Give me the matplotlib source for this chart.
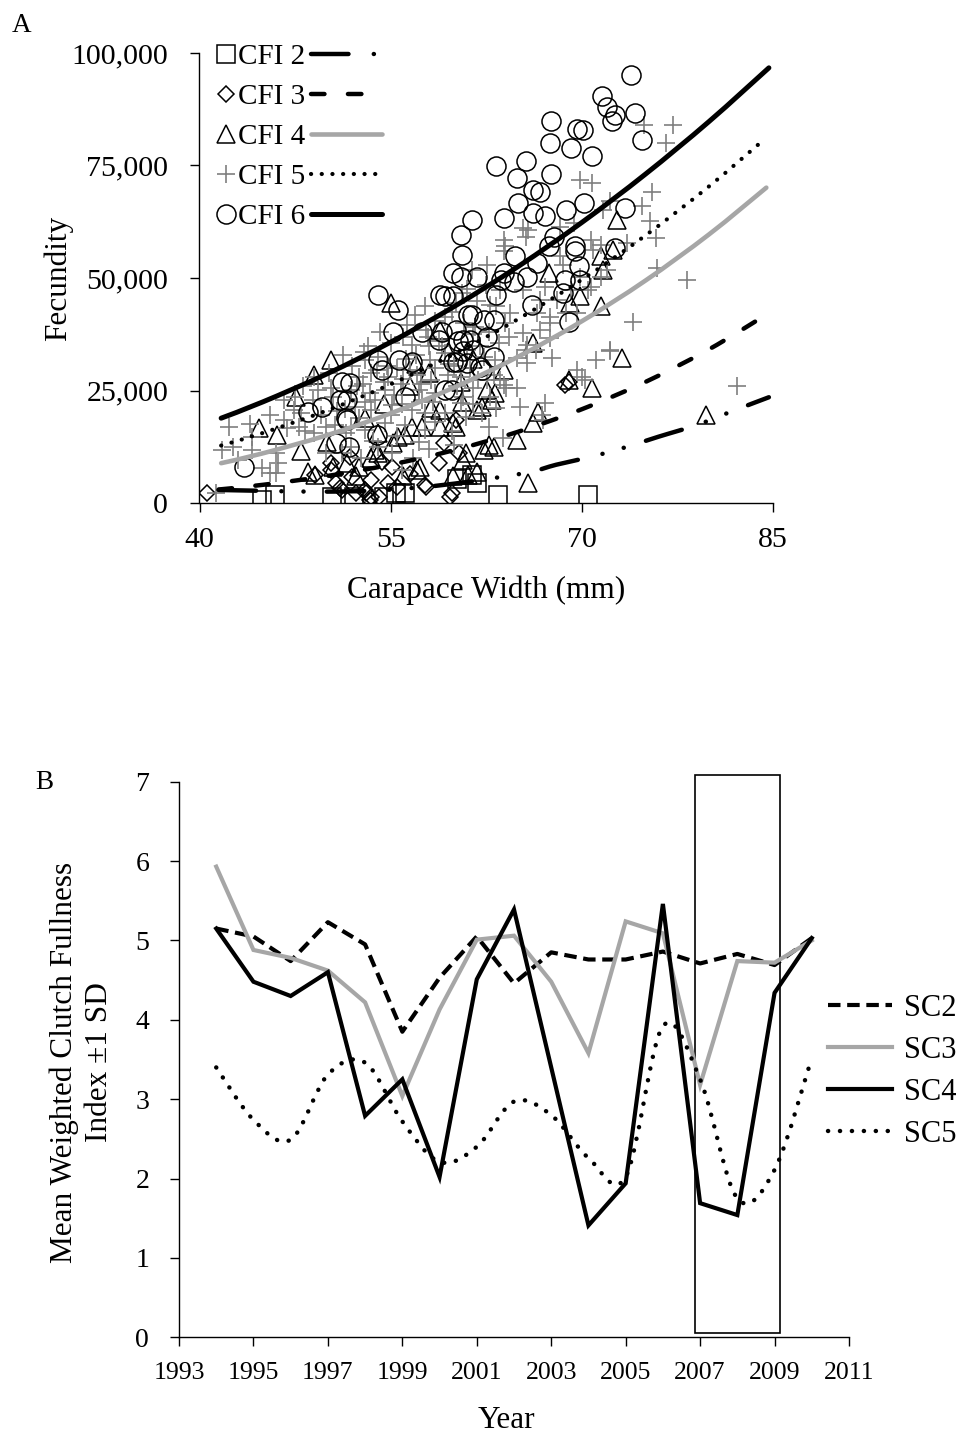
import numpy as np
import matplotlib
matplotlib.use("Agg")
import matplotlib.pyplot as plt
from matplotlib.path import Path
from matplotlib.patches import PathPatch, Rectangle
from matplotlib.lines import Line2D

plt.rcParams['font.family'] = ['Liberation Serif', 'DejaVu Serif']
plt.rcParams['lines.scale_dashes'] = False

# ---------------- Panel A data ----------------
cfi2_cw = [44.9, 45.9, 50.4, 52.1, 54.5, 55.4, 56.1, 60.2, 61.4, 61.8, 63.4, 70.5]
cfi2_fec = [700, 1800, 1400, 1400, 1400, 2200, 2200, 5300, 6300, 4400, 1800, 1800]

cfi3_cw = [40.6, 50.3, 49.1, 50.7, 51.2, 52.3, 53.4, 54.1, 55.1, 57.8, 58.8, 59.7, 60.4, 59.2,
           60.1, 57.7, 59.8, 53.0, 69.0, 68.7, 50.3, 51.0, 53.1, 53.5, 55.5, 51.8, 53.5, 54.3,
           52.0, 56.5, 54.8]
cfi3_fec = [2200, 8800, 6200, 4400, 2900, 2200, 700, 1400, 8100, 3600, 8800, 1400, 11100, 13300,
            18500, 4000, 2200, 2900, 27000, 26300, 7300, 3300, 2200, 1400, 3600, 10300, 5100, 9200,
            5800, 6500, 4500]

cfi4_cw = [50.3, 49.0, 47.6, 44.7, 46.1, 48.5, 49.1, 55.0, 50.5, 53.8, 55.2, 56.1, 57.5, 59.9,
           61.8, 60.6, 58.9, 58.9, 62.3, 60.7, 61.8, 57.3, 56.0, 52.3, 51.6, 53.5, 62.6, 62.2,
           63.0, 58.2, 56.7, 58.9, 60.1, 54.0, 55.6, 62.7, 60.9, 57.1, 54.0, 52.5, 59.9, 61.1,
           72.8, 71.5, 72.5, 71.7, 69.9, 69.1, 71.5, 67.4, 73.2, 70.8, 69.0, 66.2, 66.6, 66.2,
           64.9, 63.1, 65.8, 63.9, 63.2, 79.8, 56.5, 58.0, 59.5, 54.5, 57.0, 60.5, 61.5, 53.0,
           50.0, 48.0]
cfi4_fec = [31800, 28500, 23600, 16600, 15100, 7000, 6200, 44400, 8100, 11800, 13300, 15100,
            17000, 17700, 20700, 22500, 38500, 20700, 11800, 9600, 7000, 8100, 5900, 5900, 8800,
            9900, 25100, 21400, 22900, 21100, 17000, 17000, 17000, 15500, 14700, 12900, 11100,
            7300, 11100, 8100, 5900, 6200, 62900, 54800, 56300, 51800, 45900, 44400, 43700,
            51100, 32200, 25500, 27400, 35500, 20300, 17700, 14000, 12500, 4400, 29600, 24400,
            19600, 26000, 29000, 33500, 22000, 31000, 27000, 32000, 19000, 13500, 11500]

cfi5_cw = [77.2, 76.6, 74.9, 69.9, 70.8, 75.5, 74.7, 75.4, 75.8, 72.2, 75.9, 78.3, 74.0, 72.2,
           71.1, 70.0, 82.2, 67.7, 65.2, 63.3, 66.9, 64.9, 63.9, 73.6, 69.4, 68.3, 65.8, 65.6,
           63.9, 64.0, 70.9, 70.7, 72.0, 69.2, 70.7, 67.5, 68.8, 67.5, 65.7, 66.4, 64.9, 65.7,
           62.6, 61.5, 60.5, 71.7, 65.4, 63.9, 68.3, 71.5, 68.5, 69.9, 71.5, 70.5, 67.1, 68.1,
           69.6, 67.5, 66.7, 65.6, 72.2, 69.6, 70.3, 67.1, 67.0, 64.1, 63.6, 63.2, 64.3, 65.4,
           66.5, 64.4, 63.3, 63.6, 65.4, 66.7, 62.6, 61.4, 60.6, 60.1, 57.7, 56.9, 59.3, 61.6,
           62.7, 56.0, 55.0, 56.7, 58.0, 59.3, 61.0, 62.3, 53.0, 54.0, 58.1, 52.5, 53.5, 54.8,
           57.1, 58.2, 60.5, 61.9, 63.1, 51.9, 53.4, 54.6, 57.2, 58.5, 60.7, 62.8, 52.2, 53.5,
           55.1, 56.7, 57.7, 59.3, 60.9, 51.9, 53.0, 54.6, 56.1, 57.7, 51.9, 54.0, 55.9, 55.1,
           62.7, 62.2, 42.3, 41.8, 42.6, 44.1, 44.1, 45.5, 46.0, 46.2, 46.0, 46.6, 47.4, 46.9,
           47.8, 48.3, 48.9, 49.3, 48.1, 46.6, 49.9, 49.0, 50.3, 50.6, 51.5, 51.2, 49.9, 41.3,
           44.9, 52.0, 52.8, 53.8, 54.5, 55.5, 55.8, 56.5, 57.0, 57.5, 58.5, 58.8, 59.5, 60.0,
           60.2, 61.2, 61.5, 62.0, 57.8, 58.5, 59.8, 60.8, 56.3, 55.0, 53.0, 52.5, 50.8, 50.5,
           49.5, 48.0, 55.5, 57.2, 58.5, 59.8, 61.5, 61.8, 62.8, 62.5, 61.0, 63.5, 64.0, 53.2,
           54.2, 51.3, 50.2, 49.0, 47.5, 45.5, 44.0, 43.0, 52.7, 53.6, 56.8, 58.0, 60.0, 63.8,
           52.4, 53.9, 55.3, 56.2, 57.4, 58.3, 59.0, 54.7, 56.0, 57.9, 59.6, 51.4, 52.9, 55.9]
cfi5_fec = [84100, 80000, 84100, 71800, 71100, 69200, 65900, 62600, 58900, 67000, 52200, 49600,
            40300, 33700, 31800, 28100, 25900, 32200, 21400, 21100, 19600, 25500, 26200, 57800,
            62200, 61400, 60700, 59200, 58500, 57000, 56300, 58500, 51800, 47400, 48100, 41400,
            42200, 36600, 35100, 34000, 32200, 31100, 27400, 25500, 22200, 65200, 61100, 55900,
            54800, 57400, 52900, 50300, 50300, 47400, 48100, 45200, 42200, 40000, 38500, 34000,
            34000, 29600, 27400, 22200, 18500, 25500, 27400, 31800, 37000, 37700, 42200, 42200,
            43700, 47400, 47400, 45200, 52900, 51800, 46600, 44400, 43700, 41800, 41400, 39200,
            38100, 37000, 35500, 35100, 34800, 33300, 34000, 32500, 31800, 32500, 31800, 28100,
            28800, 28100, 28500, 27400, 28100, 27400, 28500, 25100, 24400, 25100, 25100, 24400,
            23600, 23600, 21400, 20700, 21800, 20700, 20000, 20000, 19200, 17000, 16200, 17700,
            17300, 16200, 12500, 12500, 7300, 11100, 17000, 20000, 17000, 11800, 12500, 14700,
            11800, 6600, 6600, 8800, 11100, 22900, 20700, 16600, 17000, 15900, 22900, 25100,
            25900, 18500, 17000, 15500, 25500, 17300, 15500, 11100, 11100, 2200, 7700, 30500,
            26500, 23000, 27000, 30000, 26500, 29500, 33000, 23000, 30000, 36000, 28500, 30500,
            26000, 30000, 37500, 35000, 38500, 40500, 42500, 40000, 39500, 19500, 22500, 19000,
            20500, 23500, 19500, 20000, 15000, 13500, 18000, 16000, 22000, 45000, 44000, 48500,
            47500, 35500, 40000, 35000, 38000, 33000, 29000, 28000, 23500, 19500, 17500, 9500,
            10000, 13800, 10000, 12000, 13000, 14500,
            26000, 29500, 24000, 32000, 26500, 22500, 35000, 30500, 27500, 37000, 31000, 21000,
            33500, 22000]

cfi6_cw = [73.9, 71.6, 72.0, 72.6, 72.4, 74.2, 74.7, 67.6, 69.6, 70.1, 69.2, 70.8, 67.5, 65.6,
           63.3, 64.9, 67.6, 66.2, 66.7, 65.0, 70.2, 73.4, 68.8, 66.2, 67.1, 63.9, 67.8, 69.5,
           69.5, 67.4, 72.6, 64.8, 66.5, 69.8, 63.9, 65.7, 63.7, 64.7, 69.9, 68.7, 63.3, 68.5,
           66.1, 69.0, 63.1, 63.1, 61.4, 60.5, 60.6, 59.9, 59.9, 62.3, 62.6, 61.2, 60.1, 60.7,
           62.0, 60.2, 59.8, 61.8, 54.0, 55.6, 58.9, 59.3, 55.2, 57.5, 59.0, 61.4, 60.7, 55.7,
           56.7, 59.9, 62.2, 54.3, 51.8, 59.3, 56.1, 51.6, 51.6, 51.7, 51.2, 51.0, 49.6, 48.5,
           51.5, 50.7, 43.5, 54.0, 53.9, 60.5, 61.1, 61.5, 58.8, 60.3, 61.0]
cfi6_fec = [95000, 90400, 88100, 86300, 84800, 86700, 80700, 84800, 83000, 82800, 78900, 77000,
            80000, 75900, 74800, 72200, 73000, 69600, 69200, 66700, 66700, 65500, 65200, 64400,
            63700, 63300, 59200, 57000, 56000, 57000, 56600, 54800, 53300, 52600, 51100, 50300,
            49600, 49200, 49600, 49600, 46300, 46600, 44000, 40300, 40700, 32500, 62900, 59600,
            55200, 51100, 45900, 40700, 37000, 36300, 38500, 33700, 30300, 31400, 25100, 50300,
            46300, 42900, 46300, 45900, 38100, 38100, 38100, 41800, 36300, 31800, 31400, 31400,
            29600, 29600, 26600, 25100, 23600, 22900, 18500, 12500, 27000, 22900, 21400, 20300,
            18800, 13300, 8100, 31800, 15100, 50300, 41800, 34000, 36300, 35900, 31100]

# fitted curves
c2_x = [41.5, 45, 48, 51, 54, 57, 60, 63, 66, 68, 70.5, 73, 76, 79, 82, 84.7]
c2_y = [2900, 2700, 2550, 2550, 2800, 3400, 4300, 5500, 6900, 8500, 10100, 12000, 14700,
        17300, 20600, 23500]
c3_x = [41.5, 45, 50, 55, 60, 65, 70, 75, 80, 84.7]
c3_y = [3000, 4050, 5990, 8520, 11760, 15820, 20820, 26890, 34150, 42200]
c4_x = [41.7, 45, 50, 55, 60, 65, 70, 75, 80, 84.5]
c4_y = [8850, 11060, 15060, 19920, 25700, 32490, 40370, 49410, 59690, 70080]
c5_x = [41.7, 45, 50, 55, 60, 65, 70, 75, 80, 84.2]
c5_y = [12770, 15590, 20550, 26380, 33130, 40850, 49600, 59430, 70360, 80470]
c6_x = [41.7, 45, 50, 55, 60, 65, 70, 75, 80, 84.7]
c6_y = [18850, 22500, 28690, 35730, 43680, 52530, 62310, 73060, 84770, 96700]

a_xticks = [40, 55, 70, 85]
a_yticks = [0, 25000, 50000, 75000, 100000]
a_yticklabels = ['0', '25,000', '50,000', '75,000', '100,000']
cfi_labels = ['CFI 2', 'CFI 3', 'CFI 4', 'CFI 5', 'CFI 6']

# ---------------- Panel B data ----------------
years = [1994, 1995, 1996, 1997, 1998, 1999, 2000, 2001, 2002, 2003, 2004, 2005, 2006, 2007,
         2008, 2009, 2010]
sc2 = [5.15, 5.05, 4.74, 5.23, 4.95, 3.85, 4.53, 5.05, 4.46, 4.85, 4.76, 4.76, 4.86, 4.71,
       4.83, 4.69, 5.03]
sc3 = [5.93, 4.88, 4.78, 4.62, 4.22, 3.04, 4.13, 5.01, 5.06, 4.48, 3.58, 5.24, 5.09, 3.18,
       4.74, 4.72, 5.00]
sc4 = [5.15, 4.48, 4.30, 4.60, 2.79, 3.25, 2.02, 4.51, 5.39, 3.40, 1.41, 1.94, 5.46, 1.69,
       1.54, 4.34, 5.03]
sc5 = [3.40, 2.74, 2.49, 3.31, 3.46, 2.72, 2.21, 2.40, 2.97, 2.80, 2.26, 2.02, 3.92, 3.25,
       1.75, 2.11, 3.52]
sc_labels = ['SC2', 'SC3', 'SC4', 'SC5']
b_xticks = list(range(1993, 2012, 2))
b_yticks = list(range(0, 8))
box_years = (2006.85, 2009.15)
box_vals = (0.05, 7.09)

GRAY = '#A6A6A6'
PLUSGRAY = '#7F7F7F'


def smooth_path(xs, ys):
    """Catmull-Rom spline expressed as cubic Bezier path (Excel-like smoothing)."""
    pts = np.column_stack([np.asarray(xs, float), np.asarray(ys, float)])
    n = len(pts)
    verts = [pts[0]]
    codes = [Path.MOVETO]
    for i in range(n - 1):
        p0 = pts[i - 1] if i > 0 else pts[i]
        p1 = pts[i]
        p2 = pts[i + 1]
        p3 = pts[i + 2] if i + 2 < n else pts[i + 1]
        verts += [p1 + (p2 - p0) / 6.0, p2 - (p3 - p1) / 6.0, p2]
        codes += [Path.CURVE4] * 3
    return Path(verts, codes)


fig = plt.figure(figsize=(9.62, 14.34), dpi=100)
W, H = 962.0, 1434.0

# ================= Panel A =================
axA = fig.add_axes([199.5 / W, 1 - 503 / H, (772.7 - 199.5) / W, (503 - 53) / H])
axA.set_xlim(40, 85)
axA.set_ylim(0, 100000)

mk = dict(linestyle='none', markerfacecolor='none')
styles = [
    dict(marker='s', markersize=13, markeredgecolor='black', markeredgewidth=1.1),
    dict(marker='D', markersize=8.3, markeredgecolor='black', markeredgewidth=1.1),
    dict(marker='^', markersize=13, markeredgecolor='black', markeredgewidth=1.1),
    dict(marker='+', markersize=12.5, markeredgecolor=PLUSGRAY, markeredgewidth=1.2),
    dict(marker='o', markersize=13.7, markeredgecolor='black', markeredgewidth=1.1),
]
groups = [(cfi2_cw, cfi2_fec), (cfi3_cw, cfi3_fec), (cfi4_cw, cfi4_fec),
          (cfi5_cw, cfi5_fec), (cfi6_cw, cfi6_fec)]
for (gx, gy), st in zip(groups, styles):
    axA.plot(gx, gy, **mk, **st, zorder=3)

curve_styles = [
    dict(color='black', lw=3.2, ls=(0, (27, 18.2, 0.1, 15.8, 0.1, 16.7)), capstyle='round'),
    dict(color='black', lw=3.2, ls=(0, (9.7, 16.9)), capstyle='round'),
    dict(color=GRAY, lw=3.3, ls='-', capstyle='round'),
    dict(color='black', lw=3.0, ls=(0, (0.1, 7.6)), capstyle='round'),
    dict(color='black', lw=3.6, ls='-', capstyle='round'),
]
curves = [(c2_x, c2_y), (c3_x, c3_y), (c4_x, c4_y), (c5_x, c5_y), (c6_x, c6_y)]
for (cx, cy), cs in zip(curves, curve_styles):
    patch = PathPatch(smooth_path(cx, cy), fill=False, edgecolor=cs['color'],
                      linewidth=cs['lw'], linestyle=cs['ls'], capstyle=cs['capstyle'],
                      zorder=4)
    axA.add_patch(patch)

for side in ['top', 'right']:
    axA.spines[side].set_visible(False)
for side in ['left', 'bottom']:
    axA.spines[side].set_linewidth(1.0)
axA.set_xticks(a_xticks)
axA.set_xticklabels([str(v) for v in a_xticks])
axA.set_yticks(a_yticks)
axA.set_yticklabels(a_yticklabels)
axA.tick_params(axis='y', direction='out', length=6.5, width=1.0, labelsize=21.5, pad=16)
axA.tick_params(axis='x', direction='out', length=6.5, width=1.0, labelsize=21.5, pad=11)

# legend A: markers + labels, then line samples
fsA = 21
mh = [Line2D([], [], **mk, **st) for st in styles]
leg1 = axA.legend(mh, cfi_labels, loc='upper left', bbox_to_anchor=(217 / W, 1 - 44 / H),
                  bbox_transform=fig.transFigure, frameon=False, fontsize=fsA,
                  handlelength=0.6, handletextpad=0.12, labelspacing=0.46, borderpad=0,
                  borderaxespad=0)
axA.add_artist(leg1)
lh = [Line2D([], [], color=cs['color'], lw=cs['lw'], ls=cs['ls'],
             dash_capstyle=cs['capstyle'], solid_capstyle=cs['capstyle']) for cs in curve_styles]
leg2 = axA.legend(lh, [''] * 5, loc='upper left', bbox_to_anchor=(311 / W, 1 - 44 / H),
                  bbox_transform=fig.transFigure, frameon=False, fontsize=fsA,
                  handlelength=2.45, handletextpad=0.0, labelspacing=0.46, borderpad=0,
                  borderaxespad=0)

fig.text(12 / W, 1 - 13 / H, 'A', fontsize=19.5, ha='left', va='top')
fig.text(58 / W, 1 - 278 / H, 'Fecundity', fontsize=22.5, rotation=90, ha='center',
         va='center')
fig.text(486 / W, 1 - 598 / H, 'Carapace Width (mm)', fontsize=22.5, ha='center',
         va='baseline')

# ================= Panel B =================
axB = fig.add_axes([179 / W, 1 - 1337.3 / H, (849 - 179) / W, (1337.3 - 781.7) / H])
axB.set_xlim(1993, 2011)
axB.set_ylim(0, 7)

axB.add_patch(Rectangle((box_years[0], box_vals[0]), box_years[1] - box_years[0],
                        box_vals[1] - box_vals[0], fill=False, edgecolor='black', lw=1.2,
                        clip_on=False, zorder=1.5))

b_styles = [
    dict(color='black', lw=3.0, ls=(0, (9.0, 4.8)), capstyle='butt'),
    dict(color=GRAY, lw=3.0, ls='-', capstyle='butt'),
    dict(color='black', lw=3.0, ls='-', capstyle='butt'),
    dict(color='black', lw=3.2, ls=(0, (0.1, 8.5)), capstyle='round'),
]
axB.plot(years, sc2, color=b_styles[0]['color'], lw=b_styles[0]['lw'], ls=b_styles[0]['ls'],
         dash_capstyle='butt', solid_joinstyle='miter', zorder=3)
axB.plot(years, sc3, color=GRAY, lw=3.0, solid_joinstyle='miter', zorder=3)
axB.plot(years, sc4, color='black', lw=3.0, solid_joinstyle='miter', zorder=3)
axB.add_patch(PathPatch(smooth_path(years, sc5), fill=False, edgecolor='black', linewidth=3.2,
                        linestyle=b_styles[3]['ls'], capstyle='round', zorder=3))

for side in ['top', 'right']:
    axB.spines[side].set_visible(False)
for side in ['left', 'bottom']:
    axB.spines[side].set_linewidth(1.0)
axB.set_xticks(b_xticks)
axB.set_xticklabels([str(v) for v in b_xticks])
axB.set_yticks(b_yticks)
axB.set_yticklabels([str(v) for v in b_yticks])
axB.tick_params(axis='y', direction='out', length=6.5, width=1.0, labelsize=20, pad=15)
axB.tick_params(axis='x', direction='out', length=6.5, width=1.0, labelsize=18.5, pad=11)

bh = [Line2D([], [], color=s['color'], lw=s['lw'], ls=s['ls'], dash_capstyle=s['capstyle'])
      for s in b_styles]
axB.legend(bh, sc_labels, loc='upper left', bbox_to_anchor=(828 / W, 1 - 994 / H),
           bbox_transform=fig.transFigure, frameon=False, fontsize=22, handlelength=2.1,
           handletextpad=0.4, labelspacing=0.42, borderpad=0, borderaxespad=0)

fig.text(35 / W, 1 - 770 / H, 'B', fontsize=19.5, ha='left', va='top')
fig.text(82 / W, 1 - 1062 / H, 'Mean Weighted Clutch Fullness\nIndex \u00b11 SD', fontsize=22.5,
         rotation=90, ha='center', va='center', multialignment='center', linespacing=1.25)
fig.text(506 / W, 1 - 1428 / H, 'Year', fontsize=22.5, ha='center', va='baseline')

fig.savefig('out.png', dpi=100)
